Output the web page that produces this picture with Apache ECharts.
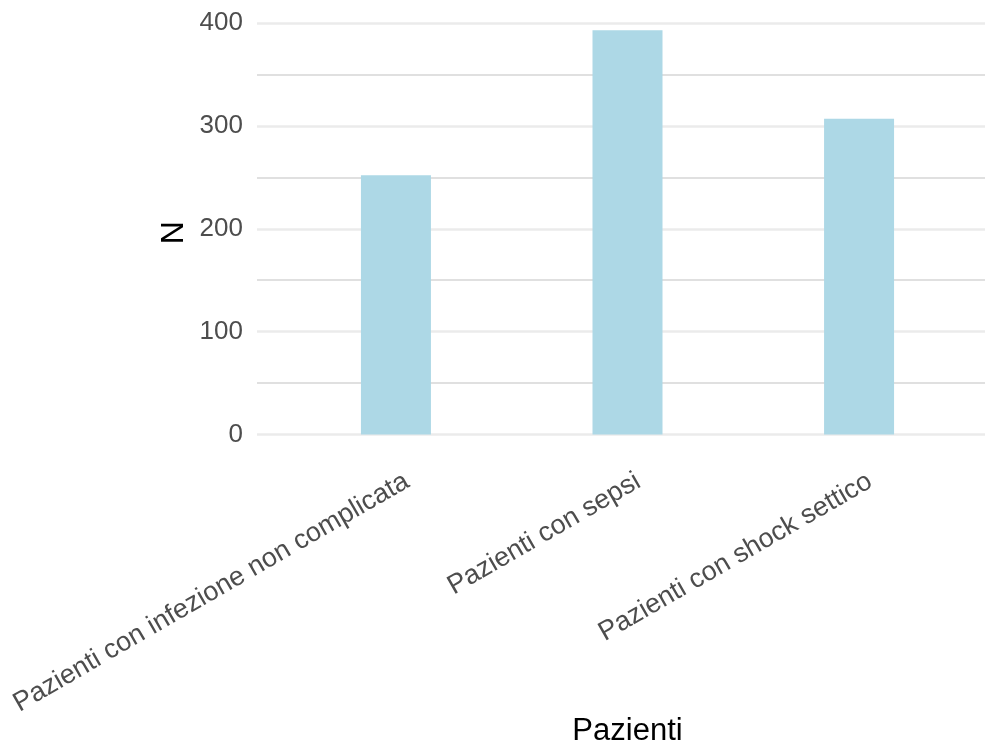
<!DOCTYPE html>
<html>
<head>
<meta charset="utf-8">
<script src="https://cdn.jsdelivr.net/npm/echarts@6/dist/echarts.min.js"></script>
<style>
html,body{margin:0;padding:0;background:#fff;}
#c{width:985px;height:744px;}
</style>
</head>
<body>
<div id="c"></div>
<script>
const categories = ["Pazienti con infezione non complicata", "Pazienti con sepsi", "Pazienti con shock settico"];
const values = [252, 393, 307];
const yTicks = [0, 100, 200, 300, 400];
const xTitle = "Pazienti";
const yTitle = "N";

const positions = categories.map((c, i) => i + 1);
const chart = echarts.init(document.getElementById('c'));
const font = '"Liberation Sans", Arial, sans-serif';
chart.setOption({
  animation: false,
  grid: {left: 257, top: 23, width: 741, height: 411.5, containLabel: false, outerBoundsMode: 'none'},
  xAxis: {
    type: 'value', min: 0.4, max: 3.6,
    splitLine: {show: false}, axisLine: {show: false}, axisTick: {show: false},
    axisLabel: {
      customValues: positions,
      formatter: v => categories[Math.round(v) - 1] || '',
      rotate: 30, align: 'right', verticalAlign: 'top', lineHeight: 44, margin: 26,
      fontSize: 27, color: '#4D4D4D', fontFamily: font
    },
    name: xTitle, nameLocation: 'middle', nameGap: 281, nameMoveOverlap: false,
    nameTextStyle: {fontSize: 31, color: '#000', fontFamily: font}
  },
  yAxis: {
    type: 'value', min: yTicks[0], max: yTicks[yTicks.length - 1], interval: 100,
    axisLine: {show: false}, axisTick: {show: false},
    axisLabel: {margin: 14, fontSize: 26, color: '#4D4D4D', fontFamily: font},
    splitLine: {show: true, lineStyle: {color: '#EBEBEB', width: 2.5}},
    minorTick: {show: false, splitNumber: 2},
    minorSplitLine: {show: true, lineStyle: {color: '#D6D6D6', width: 1.5}},
    name: yTitle, nameLocation: 'middle', nameGap: 67, nameRotate: 90, nameMoveOverlap: false,
    nameTextStyle: {fontSize: 32, color: '#000', fontFamily: font, padding: [0, 8, 0, 0]}
  },
  series: [{
    type: 'bar',
    data: positions.map((p, i) => [p, values[i]]),
    barWidth: 70,
    itemStyle: {color: '#ADD8E6'}
  }]
});
</script>
</body>
</html>
